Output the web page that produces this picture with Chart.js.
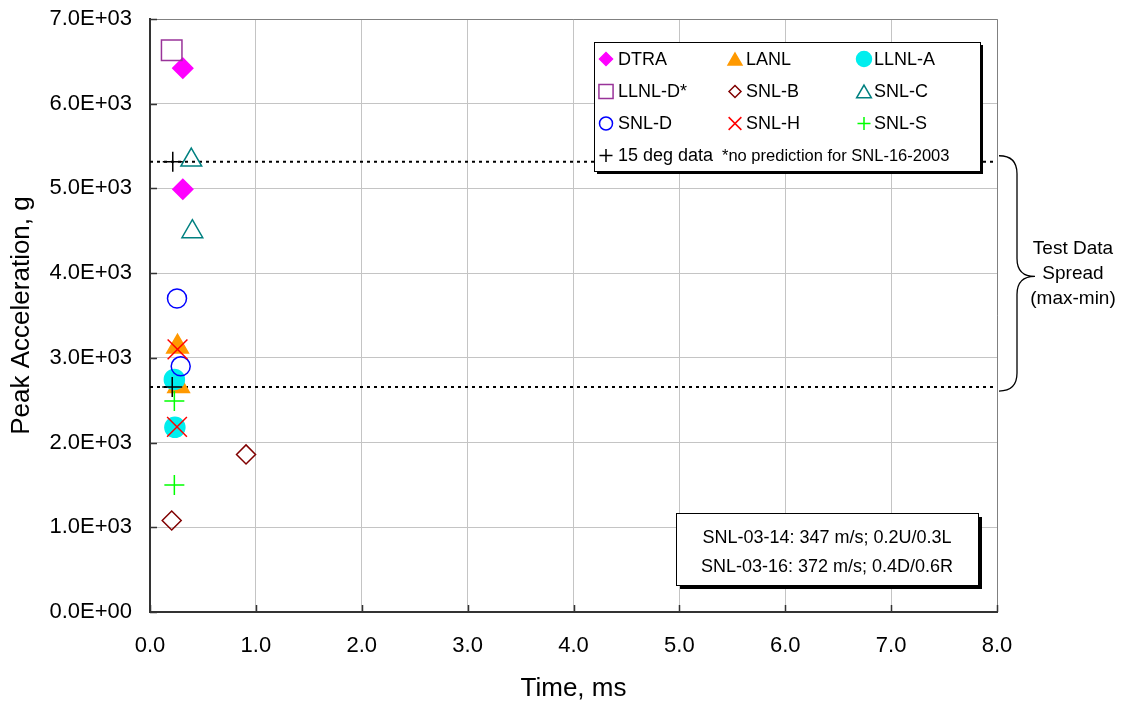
<!DOCTYPE html>
<html>
<head>
<meta charset="utf-8">
<script src="https://cdn.jsdelivr.net/npm/chart.js@4.4.1/dist/chart.umd.min.js"></script>
<style>
  html, body { margin: 0; padding: 0; background: #fff; }
</style>
</head>
<body>
<canvas id="chart" width="1122" height="704"></canvas>
<script>
(function () {

    'use strict';

    // series names as in the legend
    const seriesNames = ['DTRA', 'LANL', 'LLNL-A', 'LLNL-D*', 'SNL-B', 'SNL-C', 'SNL-D', 'SNL-H', 'SNL-S', '15 deg data'];

    // time (ms) and peak acceleration (g) for every series
    const dtraTime = [0.31, 0.31];
    const dtraPeak = [6420, 4990];
    const lanlTime = [0.26, 0.27];
    const lanlPeak = [3130, 2665];
    const llnlATime = [0.23, 0.235];
    const llnlAPeak = [2745, 2180];
    const llnlDTime = [0.205];
    const llnlDPeak = [6630];
    const snlBTime = [0.907, 0.205];
    const snlBPeak = [1860, 1080];
    const snlCTime = [0.39, 0.40];
    const snlCPeak = [5335, 4490];
    const snlDTime = [0.255, 0.29];
    const snlDPeak = [3700, 2900];
    const snlHTime = [0.26, 0.255];
    const snlHPeak = [3100, 2185];
    const snlSTime = [0.23, 0.23];
    const snlSPeak = [2490, 1500];
    const testTime = [0.215, 0.21];
    const testPeak = [5315, 2655];

    // spread of the test data (max / min)
    const spreadMax = 5315;
    const spreadMin = 2655;

    const xTicks = [0, 1, 2, 3, 4, 5, 6, 7, 8];
    const yTicks = [0, 1000, 2000, 3000, 4000, 5000, 6000, 7000];

    const noteLines = ['SNL-03-14: 347 m/s; 0.2U/0.3L', 'SNL-03-16: 372 m/s; 0.4D/0.6R'];
    const spreadLines = ['Test Data', 'Spread', '(max-min)'];

    // marker styles
    const seriesColors = ['#FF00FF', '#FF9900', '#00EEEE', '#993399', '#800000', '#008080', '#0000FF', '#FF0000', '#00FF00', '#000000'];
    const seriesShapes = ['rectRot', 'triangle', 'circle', 'rect', 'rectRot', 'triangle', 'circle', 'crossRot', 'cross', 'cross'];
    const seriesFilled = [true, true, true, false, false, false, false, false, false, false];
    const plotRadius = [10, 12.5, 10, 14.5, 9.5, 12, 9.5, 14, 10, 10];
    const legendRadius = [6.5, 8, 7.5, 10, 6, 8.5, 6.5, 9, 6.5, 6.5];

    const seriesTime = [dtraTime, lanlTime, llnlATime, llnlDTime, snlBTime, snlCTime, snlDTime, snlHTime, snlSTime, testTime];
    const seriesPeak = [dtraPeak, lanlPeak, llnlAPeak, llnlDPeak, snlBPeak, snlCPeak, snlDPeak, snlHPeak, snlSPeak, testPeak];

    const FONT = "'Liberation Sans', Arial, sans-serif";

    window.addEventListener("load", init);

    function init() {
        let datasets = [];

        // dotted max/min lines
        datasets.push(spreadLine(spreadMax));
        datasets.push(spreadLine(spreadMin));

        for (let i = 0; i < seriesNames.length; i++) {
            let pts = seriesTime[i].map((t, k) => ({ x: t, y: seriesPeak[i][k] }));
            datasets.push({
                type: 'scatter',
                label: seriesNames[i],
                data: pts,
                order: 20 - i,
                pointStyle: seriesShapes[i],
                pointRadius: plotRadius[i],
                pointHoverRadius: plotRadius[i],
                pointBorderWidth: 1.5,
                pointBorderColor: seriesColors[i],
                pointBackgroundColor: seriesFilled[i] ? seriesColors[i] : 'rgba(0,0,0,0)',
                showLine: false
            });
        }

        let config = {
            type: 'scatter',
            data: { datasets: datasets },
            options: {
                responsive: false,
                devicePixelRatio: 1,
                animation: false,
                events: [],
                layout: { padding: { left: 0, top: 19, right: 125, bottom: 0 } },
                plugins: {
                    legend: { display: false },
                    tooltip: { enabled: false }
                },
                scales: {
                    x: {
                        type: 'linear',
                        min: 0,
                        max: 8,
                        afterFit: (scale) => { scale.height = 92; },
                        afterBuildTicks: (scale) => { scale.ticks = xTicks.map(v => ({ value: v })); },
                        grid: { color: '#c4c4c4', lineWidth: 1, drawTicks: false },
                        border: { display: true, color: '#333333', width: 2 },
                        ticks: {
                            padding: 21,
                            color: '#000',
                            font: { family: FONT, size: 22 },
                            callback: (v) => Number(v).toFixed(1)
                        },
                        title: {
                            display: true,
                            text: 'Time, ms',
                            color: '#000',
                            font: { family: FONT, size: 26 },
                            padding: { top: 0, bottom: 0 }
                        }
                    },
                    y: {
                        type: 'linear',
                        min: 0,
                        max: 7000,
                        afterFit: (scale) => {
                            scale.width = 150;
                            scale.paddingTop = 0;
                            scale.paddingBottom = 0;
                        },
                        afterBuildTicks: (scale) => { scale.ticks = yTicks.map(v => ({ value: v })); },
                        grid: { color: '#c4c4c4', lineWidth: 1, drawTicks: false },
                        border: { display: true, color: '#333333', width: 2 },
                        ticks: {
                            padding: 18,
                            color: '#000',
                            font: { family: FONT, size: 22 },
                            callback: sciLabel
                        },
                        title: {
                            display: true,
                            text: 'Peak Acceleration, g',
                            color: '#000',
                            font: { family: FONT, size: 26 },
                            padding: { top: 6, bottom: 0 }
                        }
                    }
                }
            },
            plugins: [framePlugin, notesPlugin]
        };

        new Chart(id("chart"), config);
    }

    function spreadLine(value) {
        return {
            type: 'line',
            data: [{ x: 0, y: value }, { x: 8, y: value }],
            order: 50,
            borderColor: '#000',
            borderWidth: 2,
            borderDash: [3, 4],
            pointRadius: 0,
            fill: false
        };
    }

    // 7000 -> 7.0E+03
    function sciLabel(v) {
        if (v === 0) {
            return '0.0E+00';
        }
        let e = Math.floor(Math.log10(Math.abs(v)));
        let m = v / Math.pow(10, e);
        return m.toFixed(1) + 'E' + (e < 0 ? '-' : '+') + String(Math.abs(e)).padStart(2, '0');
    }

    // grey frame on top / right and small inward tick marks
    const framePlugin = {
        id: 'frame',
        beforeDatasetsDraw(chart) {
            let ctx = chart.ctx;
            let a = chart.chartArea;
            ctx.save();
            ctx.strokeStyle = '#808080';
            ctx.lineWidth = 1;
            ctx.beginPath();
            ctx.moveTo(a.left, a.top + 0.5);
            ctx.lineTo(a.right + 0.5, a.top + 0.5);
            ctx.lineTo(a.right + 0.5, a.bottom);
            ctx.stroke();

            ctx.strokeStyle = '#333333';
            ctx.lineWidth = 1.5;
            ctx.beginPath();
            chart.scales.y.ticks.forEach(t => {
                let py = Math.round(chart.scales.y.getPixelForValue(t.value)) + 0.5;
                ctx.moveTo(a.left, py);
                ctx.lineTo(a.left + 7, py);
            });
            chart.scales.x.ticks.forEach(t => {
                let px = Math.round(chart.scales.x.getPixelForValue(t.value)) + 0.5;
                ctx.moveTo(px, a.bottom);
                ctx.lineTo(px, a.bottom - 7);
            });
            ctx.stroke();
            ctx.restore();
        }
    };

    // legend box, note box and the spread brace
    const notesPlugin = {
        id: 'notes',
        afterDraw(chart) {
            let ctx = chart.ctx;
            ctx.save();

            // legend box
            shadowBox(ctx, 594, 42, 386, 129, 3);
            const colMark = [606, 735, 864];
            const colText = [618, 746, 874];
            const rowY = [59, 91.5, 123.5, 155.5];
            ctx.textBaseline = 'middle';
            ctx.textAlign = 'left';
            for (let i = 0; i < seriesNames.length; i++) {
                let r = Math.floor(i / 3);
                let c = i % 3;
                let my = rowY[r] + (seriesShapes[i] === 'triangle' ? 2 : 0);
                marker(ctx, i, legendRadius[i], colMark[c], my);
                ctx.fillStyle = '#000';
                ctx.font = '18px ' + FONT;
                ctx.fillText(seriesNames[i], colText[c], rowY[r] + 1);
            }
            ctx.font = '16.5px ' + FONT;
            ctx.fillText('*no prediction for SNL-16-2003', 722, rowY[3] + 1);

            // note box
            shadowBox(ctx, 676, 513, 302, 72, 4);
            ctx.fillStyle = '#000';
            ctx.font = '18px ' + FONT;
            ctx.textAlign = 'center';
            ctx.fillText(noteLines[0], 827, 538);
            ctx.fillText(noteLines[1], 827, 567);

            // brace for the test data spread
            let ys = chart.scales.y;
            let yTop = ys.getPixelForValue(spreadMax) - 6;
            let yBot = ys.getPixelForValue(spreadMin) + 4;
            let ym = (yTop + yBot) / 2 + 3;
            let xl = 999, xm = 1017, xt = 1035;
            ctx.strokeStyle = '#000';
            ctx.lineWidth = 1.3;
            ctx.beginPath();
            ctx.moveTo(xl, yTop);
            ctx.quadraticCurveTo(xm, yTop, xm, yTop + 18);
            ctx.lineTo(xm, ym - 18);
            ctx.quadraticCurveTo(xm, ym, xt, ym);
            ctx.quadraticCurveTo(xm, ym, xm, ym + 18);
            ctx.lineTo(xm, yBot - 18);
            ctx.quadraticCurveTo(xm, yBot, xl, yBot);
            ctx.stroke();

            ctx.font = '19px ' + FONT;
            ctx.textAlign = 'center';
            ctx.fillText(spreadLines[0], 1073, ym - 28);
            ctx.fillText(spreadLines[1], 1073, ym - 3);
            ctx.fillText(spreadLines[2], 1073, ym + 22);

            ctx.restore();
        }
    };

    function shadowBox(ctx, x, y, w, h, off) {
        ctx.fillStyle = '#000';
        ctx.fillRect(x + off, y + off, w, h);
        ctx.fillStyle = '#fff';
        ctx.fillRect(x, y, w, h);
        ctx.strokeStyle = '#000';
        ctx.lineWidth = 1;
        ctx.strokeRect(x + 0.5, y + 0.5, w, h);
    }

    function marker(ctx, i, r, x, y) {
        ctx.save();
        ctx.strokeStyle = seriesColors[i];
        ctx.fillStyle = seriesFilled[i] ? seriesColors[i] : 'rgba(0,0,0,0)';
        ctx.lineWidth = 1.5;
        Chart.helpers.drawPoint(ctx, { pointStyle: seriesShapes[i], radius: r, rotation: 0, borderWidth: 1.5 }, x, y);
        ctx.restore();
    }

    function id(idName) {
        return document.getElementById(idName);
    }

})();
</script>
</body>
</html>
